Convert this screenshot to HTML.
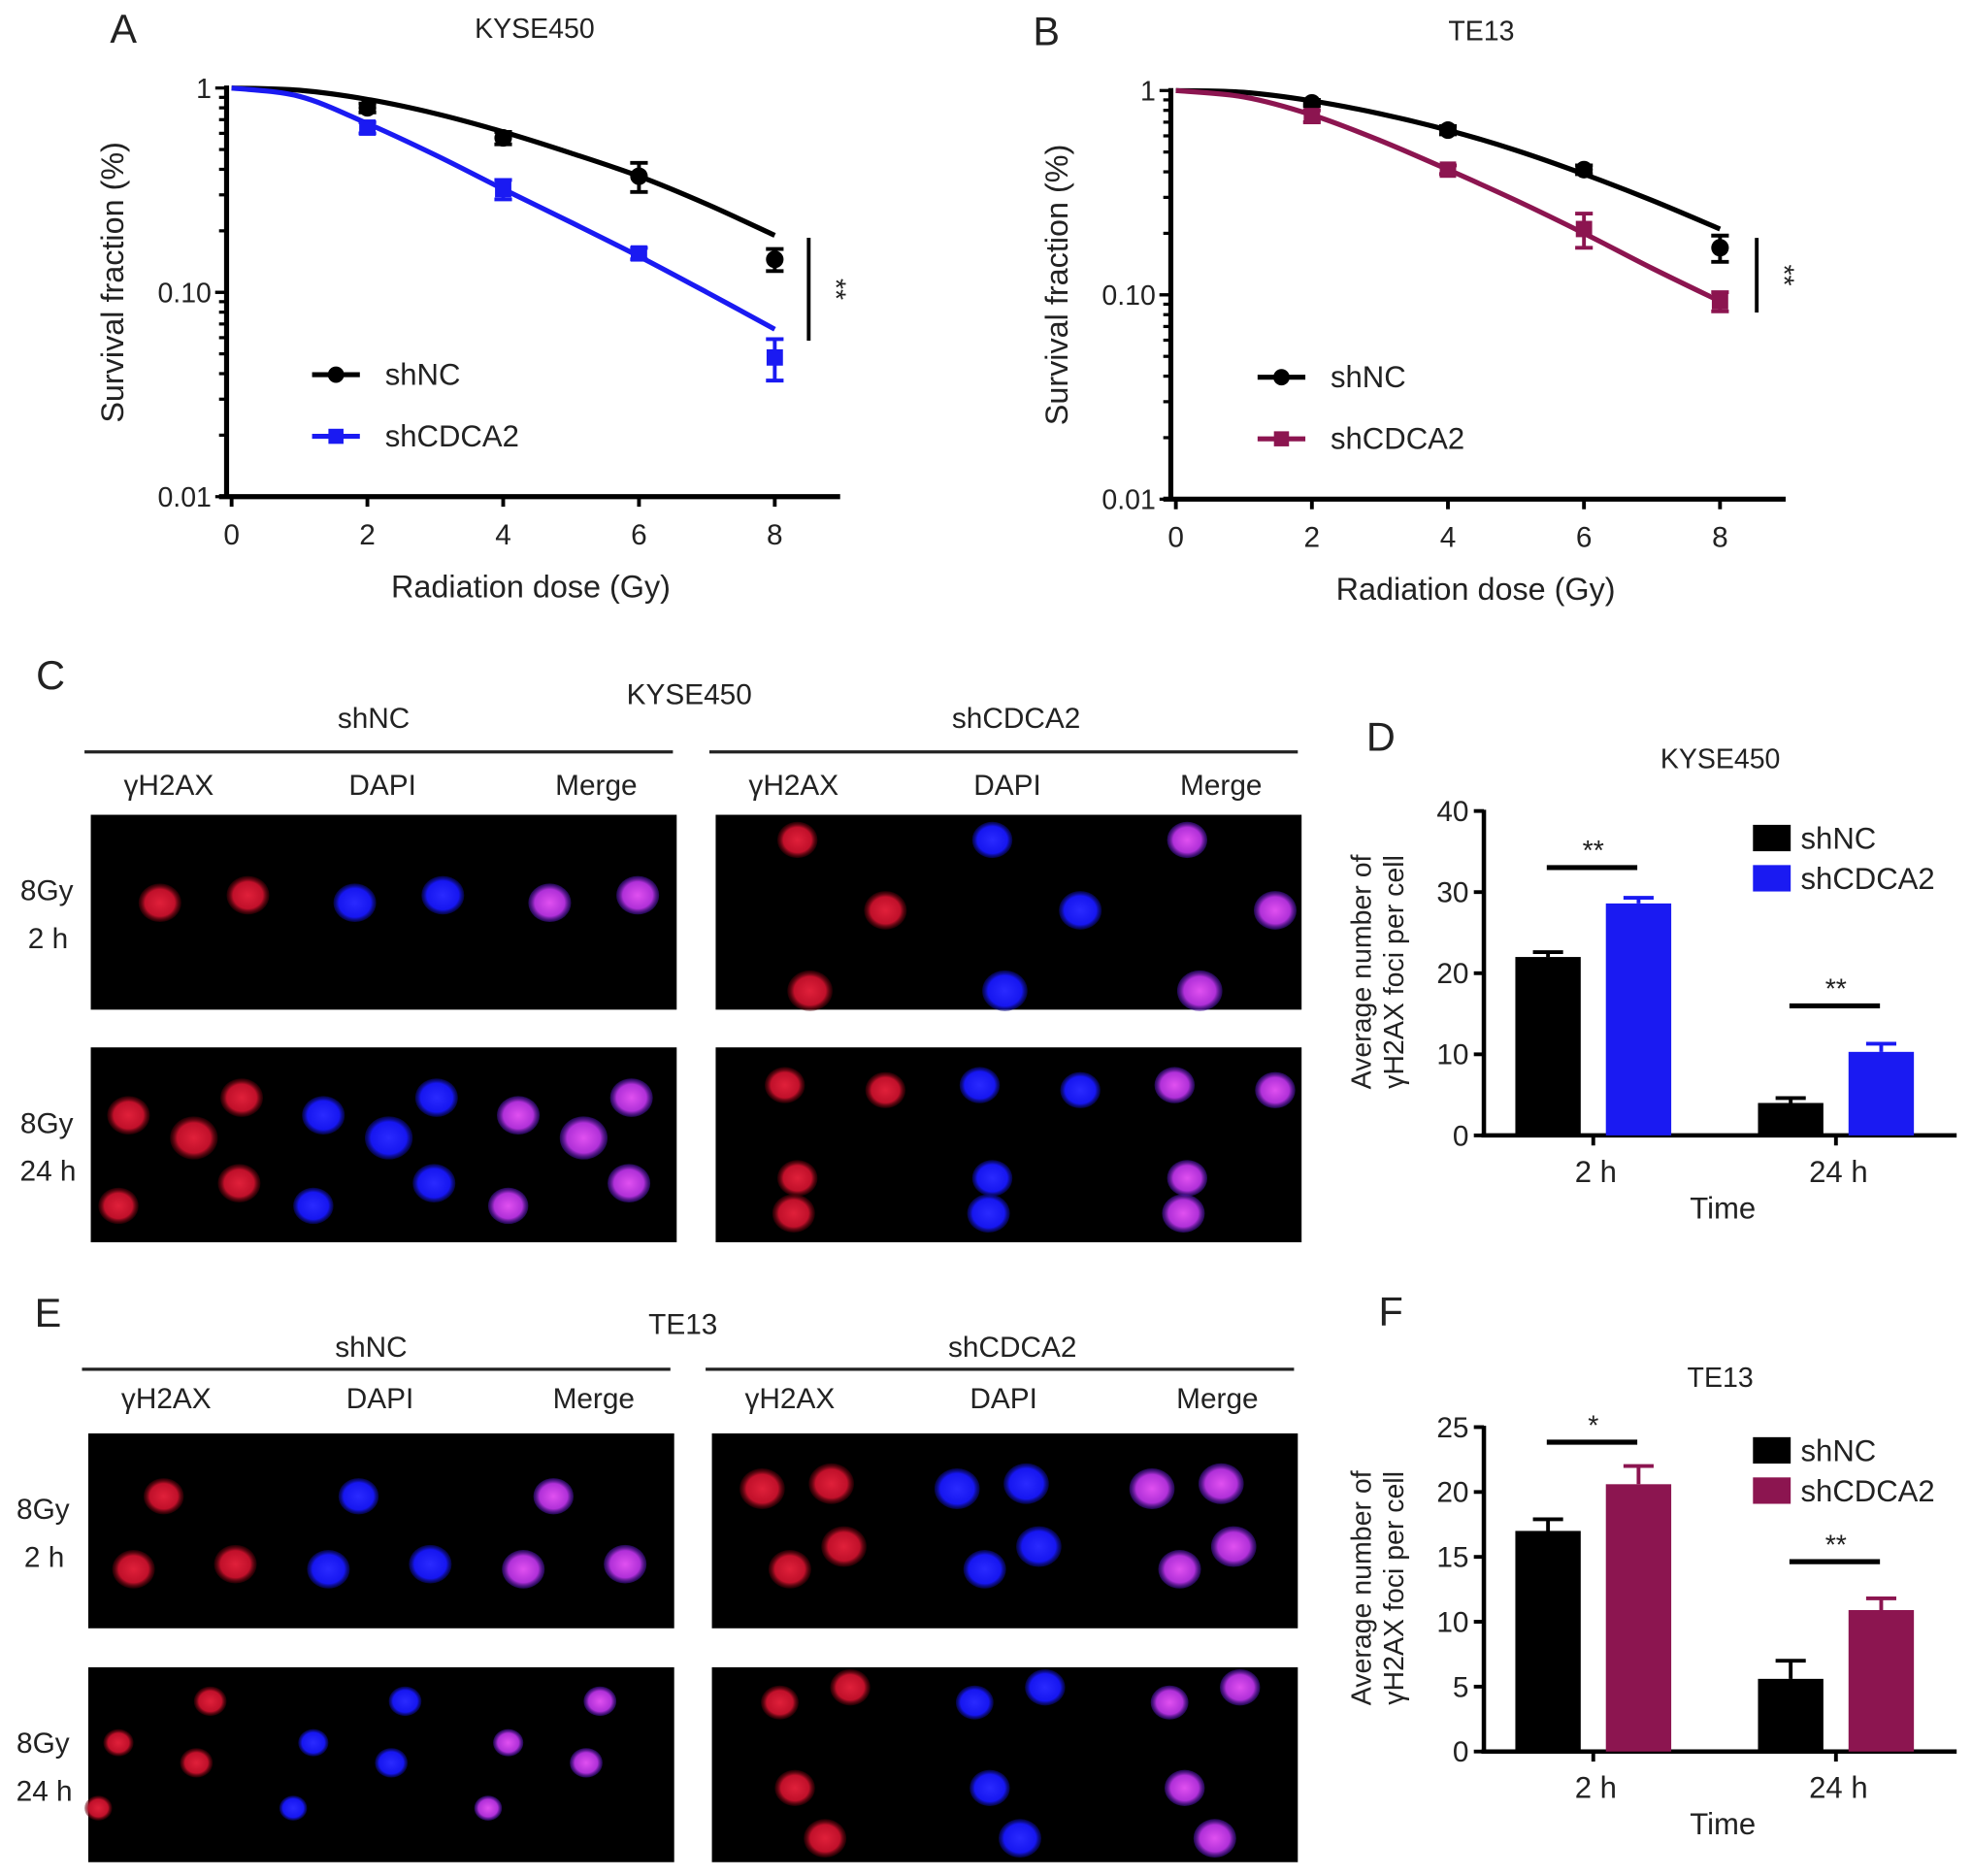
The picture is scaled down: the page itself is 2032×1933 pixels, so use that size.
<!DOCTYPE html>
<html><head><meta charset="utf-8"><style>
html,body{margin:0;padding:0;background:#fff}
svg{display:block}
text{font-family:"Liberation Sans",Arial,sans-serif;fill:#222}
</style></head><body>
<svg id="fig" width="2032" height="1933" viewBox="0 0 1568 1492" xmlns="http://www.w3.org/2000/svg">
<defs>
<radialGradient id="gR"><stop offset="0" stop-color="#e0203a"/><stop offset="0.7" stop-color="#c0102a"/><stop offset="1" stop-color="#500008" stop-opacity="0.4"/></radialGradient>
<radialGradient id="gB"><stop offset="0" stop-color="#2a2aff"/><stop offset="0.75" stop-color="#1616f0"/><stop offset="1" stop-color="#0a0a80" stop-opacity="0.5"/></radialGradient>
<radialGradient id="gM"><stop offset="0" stop-color="#e050f0"/><stop offset="0.7" stop-color="#b030d8"/><stop offset="1" stop-color="#4010a0" stop-opacity="0.5"/></radialGradient>
</defs>
<g id="root"></g>
</svg>
<script>
// ---- Data arrays ----
var doses = [0, 2, 4, 6, 8];
var fitDoses = [0, 1, 2, 3, 4, 5, 6, 7, 8];
var aNC = [1, 0.8, 0.57, 0.37, 0.145];
var aNCerr = [0, 0.04, 0.04, 0.06, 0.018];
var aKD = [1, 0.64, 0.32, 0.155, 0.048];
var aKDerr = [0, 0.04, 0.035, 0.01, 0.011];
var aNCfit = [1, 0.975, 0.88, 0.75, 0.61, 0.48, 0.37, 0.27, 0.19];
var aKDfit = [1, 0.91, 0.67, 0.47, 0.32, 0.22, 0.15, 0.1, 0.066];
var bNC = [1, 0.87, 0.64, 0.41, 0.17];
var bNCerr = [0, 0.03, 0.03, 0.02, 0.025];
var bKD = [1, 0.75, 0.41, 0.21, 0.093];
var bKDerr = [0, 0.05, 0.02, 0.04, 0.01];
var bNCfit = [1, 0.98, 0.89, 0.77, 0.64, 0.51, 0.39, 0.29, 0.21];
var bKDfit = [1, 0.93, 0.76, 0.57, 0.41, 0.29, 0.2, 0.135, 0.093];
var timeCats = ["2 h", "24 h"];
var dNC = [22, 4];
var dNCerr = [0.6, 0.6];
var dKD = [28.6, 10.3];
var dKDerr = [0.7, 1.0];
var dTicks = [0, 10, 20, 30, 40];
var fNC = [17, 5.6];
var fNCerr = [0.9, 1.4];
var fKD = [20.6, 10.9];
var fKDerr = [1.4, 0.9];
var fTicks = [0, 5, 10, 15, 20, 25];
var logTicks = ["1", "0.10", "0.01"];
var doseTicks = [0, 2, 4, 6, 8];

var NS = "http://www.w3.org/2000/svg";
var root = document.getElementById("root");
function mk(tag, attrs, parent, txt) {
  var e = document.createElementNS(NS, tag);
  for (var k in attrs) e.setAttribute(k, attrs[k]);
  if (txt !== undefined) e.textContent = txt;
  (parent || root).appendChild(e);
  return e;
}
function grp(name, parent) {
  var g = mk("g", {}, parent);
  
  
  return g;
}
function label(parent, name, x, y, s, size, anchor, extra) {
  var t = mk("text", {x: x, y: y, "font-size": size, "text-anchor": anchor || "middle"}, parent, s);
  if (extra) for (var k in extra) t.setAttribute(k, extra[k]);
  
  
  return t;
}
function smooth(pts) {
  var d = "M" + pts[0][0] + "," + pts[0][1];
  for (var i = 0; i < pts.length - 1; i++) {
    var p0 = pts[i - 1] || pts[i], p1 = pts[i], p2 = pts[i + 1], p3 = pts[i + 2] || p2;
    d += " C" + (p1[0] + (p2[0] - p0[0]) / 6) + "," + (p1[1] + (p2[1] - p0[1]) / 6) + " " +
      (p2[0] - (p3[0] - p1[0]) / 6) + "," + (p2[1] - (p3[1] - p1[1]) / 6) + " " + p2[0] + "," + p2[1];
  }
  return d;
}

// ---- Survival panel ----
function survival(cfg) {
  var g = grp(cfg.name);
  var X = function (v) { return cfg.x0 + v * cfg.px; };
  var Y = function (v) { return cfg.y1 - Math.log10(v) * cfg.dec; };
  var yBottom = cfg.y1 + 2 * cfg.dec;
  label(g, "panel-letter", cfg.lx, cfg.ly, cfg.letter, 32, "middle");
  label(g, "chart-title", cfg.tx, cfg.ly - 4, cfg.title, 22);
  mk("line", {x1: cfg.ax, y1: cfg.y1 - 2, x2: cfg.ax, y2: yBottom, stroke: "#000", "stroke-width": 4}, g);
  mk("line", {x1: cfg.ax - 6, y1: yBottom, x2: cfg.xend, y2: yBottom, stroke: "#000", "stroke-width": 4}, g);
  for (var dd = 0; dd < 2; dd++) for (var m = 1; m <= 10; m++) {
    var v = Math.pow(10, -2 + dd) * m;
    var yy = Y(v); var major = (m === 1 || m === 10);
    mk("line", {x1: cfg.ax - (major ? 9 : 6), y1: yy, x2: cfg.ax, y2: yy, stroke: "#000", "stroke-width": 2.5}, g);
  }
  logTicks.forEach(function (t, i) {
    label(g, "y-tick-label", cfg.ax - 12, cfg.y1 + i * cfg.dec + 8, t, 22, "end");
  });
  doseTicks.forEach(function (t) {
    mk("line", {x1: X(t), y1: yBottom, x2: X(t), y2: yBottom + 8, stroke: "#000", "stroke-width": 3}, g);
    label(g, "x-tick-label", X(t), yBottom + 38, String(t), 23);
  });
  label(g, "x-axis-title", (cfg.ax + cfg.xend) / 2 - 2, yBottom + 80, "Radiation dose (Gy)", 25);
  label(g, "y-axis-title", 0, 0, "Survival fraction (%)", 25, "middle",
    {transform: "translate(" + (cfg.ax - 82) + "," + ((cfg.y1 + yBottom) / 2 - 8) + ") rotate(-90)"});
  function series(fit, vals, errs, color, shape, nm) {
    var sg = grp(nm, g);
    var p = mk("path", {d: smooth(fitDoses.map(function (d, i) { return [X(d), Y(fit[i])]; })), fill: "none", stroke: color, "stroke-width": 4}, sg);
     
    for (var i = 1; i < doses.length; i++) {
      var cx = X(doses[i]), cy = Y(vals[i]), hi = Y(vals[i] + errs[i]), lo = Y(Math.max(vals[i] - errs[i], 0.001));
      mk("path", {d: "M" + cx + "," + hi + "V" + lo + "M" + (cx - 7) + "," + hi + "h14M" + (cx - 7) + "," + lo + "h14", stroke: color, "stroke-width": 3, fill: "none"}, sg);
      var mark = shape === "c" ? mk("circle", {cx: cx, cy: cy, r: 7, fill: color}, sg)
        : mk("rect", {x: cx - 6.5, y: cy - 6.5, width: 13, height: 13, fill: color}, sg);
      
      
    }
  }
  series(cfg.ncFit, cfg.nc, cfg.ncErr, "#000", "c", "shNC-series");
  series(cfg.kdFit, cfg.kd, cfg.kdErr, cfg.kdColor, "s", "shCDCA2-series");
  var sx = cfg.sigX;
  mk("line", {x1: sx, y1: Y(cfg.sigTop), x2: sx, y2: Y(cfg.sigBot), stroke: "#000", "stroke-width": 3}, g);
  label(g, "significance-stars", 0, 0, "**", 22, "middle", {transform: "translate(" + (sx + 14) + "," + (Y(Math.sqrt(cfg.sigTop * cfg.sigBot))) + ") rotate(90)"});
  var lg = grp("legend", g);
  mk("line", {x1: cfg.legX, y1: cfg.legY, x2: cfg.legX + 38, y2: cfg.legY, stroke: "#000", "stroke-width": 4}, lg);
  mk("circle", {cx: cfg.legX + 19, cy: cfg.legY, r: 6.5, fill: "#000"}, lg);
  label(lg, "legend-shNC", cfg.legX + 58, cfg.legY + 8, "shNC", 24, "start");
  mk("line", {x1: cfg.legX, y1: cfg.legY + 49, x2: cfg.legX + 38, y2: cfg.legY + 49, stroke: cfg.kdColor, "stroke-width": 4}, lg);
  mk("rect", {x: cfg.legX + 13, y: cfg.legY + 43, width: 12, height: 12, fill: cfg.kdColor}, lg);
  label(lg, "legend-shCDCA2", cfg.legX + 58, cfg.legY + 57, "shCDCA2", 24, "start");
}
survival({name: "panel-a-survival", letter: "A", lx: 98, ly: 34, tx: 425, title: "KYSE450",
  ax: 180, x0: 184, px: 54, y1: 70, dec: 162.5, xend: 668,
  nc: aNC, ncErr: aNCerr, kd: aKD, kdErr: aKDerr, ncFit: aNCfit, kdFit: aKDfit, kdColor: "#1a1af2",
  sigX: 643, sigTop: 0.185, sigBot: 0.058, legX: 248, legY: 298});
survival({name: "panel-b-survival", letter: "B", lx: 832, ly: 36, tx: 1178, title: "TE13",
  ax: 931, x0: 935, px: 54.1, y1: 72, dec: 162.5, xend: 1420,
  nc: bNC, ncErr: bNCerr, kd: bKD, kdErr: bKDerr, ncFit: bNCfit, kdFit: bKDfit, kdColor: "#8c1550",
  sigX: 1397, sigTop: 0.19, sigBot: 0.082, legX: 1000, legY: 300});

// ---- Bar panels ----
function bars(cfg) {
  var g = grp(cfg.name);
  var Y = function (v) { return cfg.y0 - v / cfg.max * (cfg.y0 - cfg.yTop); };
  label(g, "panel-letter", cfg.lx, cfg.ly, cfg.letter, 32);
  label(g, "chart-title", 1368, cfg.ty, cfg.title, 22);
  mk("line", {x1: 1180, y1: cfg.yTop - 1, x2: 1180, y2: cfg.y0, stroke: "#000", "stroke-width": 3.5}, g);
  mk("line", {x1: 1178, y1: cfg.y0, x2: 1556, y2: cfg.y0, stroke: "#000", "stroke-width": 3.5}, g);
  cfg.ticks.forEach(function (t) {
    mk("line", {x1: 1172, y1: Y(t), x2: 1180, y2: Y(t), stroke: "#000", "stroke-width": 3}, g);
    label(g, "y-tick-label", 1168, Y(t) + 8, String(t), 23, "end");
  });
  var centers = [1267, 1460];
  timeCats.forEach(function (c, i) {
    mk("line", {x1: centers[i], y1: cfg.y0, x2: centers[i], y2: cfg.y0 + 8, stroke: "#000", "stroke-width": 3}, g);
    label(g, "x-tick-label", centers[i] + 2, cfg.y0 + 37, c, 24);
    [[cfg.nc, cfg.ncErr, "#000", -62, "shNC"], [cfg.kd, cfg.kdErr, cfg.kdColor, 10, "shCDCA2"]].forEach(function (s) {
      var v = s[0][i], e = s[1][i], bx = centers[i] + s[3];
      mk("path", {d: "M" + (bx + 26) + "," + Y(v) + "V" + Y(v + e) + "M" + (bx + 14) + "," + Y(v + e) + "h24", stroke: s[2], "stroke-width": 3, fill: "none"}, g);
      var r = mk("rect", {x: bx, y: Y(v), width: 52, height: cfg.y0 - Y(v), fill: s[2]}, g);
      
      
    });
  });
  label(g, "x-axis-title", 1370, cfg.y0 + 66, "Time", 24);
  label(g, "y-axis-title", 0, 0, "Average number of", 22, "middle", {transform: "translate(1090," + (cfg.y0 - 130) + ") rotate(-90)"});
  label(g, "y-axis-title-line2", 0, 0, "\u03b3H2AX foci per cell", 22, "middle", {transform: "translate(1116," + (cfg.y0 - 130) + ") rotate(-90)"});
  cfg.sig.forEach(function (s, i) {
    mk("line", {x1: centers[i] - 37, y1: s[1], x2: centers[i] + 35, y2: s[1], stroke: "#000", "stroke-width": 4}, g);
    label(g, "significance-stars", centers[i], s[1] - 6, s[0], 22);
  });
  var lg = grp("legend", g);
  mk("rect", {x: 1394, y: cfg.legY, width: 30, height: 21, fill: "#000"}, lg);
  label(lg, "legend-shNC", 1432, cfg.legY + 19, "shNC", 24, "start");
  mk("rect", {x: 1394, y: cfg.legY + 32, width: 30, height: 21, fill: cfg.kdColor}, lg);
  label(lg, "legend-shCDCA2", 1432, cfg.legY + 51, "shCDCA2", 24, "start");
}
bars({name: "panel-d-bars", letter: "D", lx: 1098, ly: 597, ty: 611, title: "KYSE450", y0: 903, yTop: 645, max: 40, ticks: dTicks,
  nc: dNC, ncErr: dNCerr, kd: dKD, kdErr: dKDerr, kdColor: "#1a1af2", sig: [["**", 690], ["**", 800]], legY: 656});
bars({name: "panel-f-bars", letter: "F", lx: 1106, ly: 1054, ty: 1103, title: "TE13", y0: 1393, yTop: 1135, max: 25, ticks: fTicks,
  nc: fNC, ncErr: fNCerr, kd: fKD, kdErr: fKDerr, kdColor: "#8c1550", sig: [["*", 1147], ["**", 1242]], legY: 1143});

// ---- Microscopy panels ----
function micro(cfg) {
  var g = grp(cfg.name);
  label(g, "panel-letter", cfg.lx, cfg.ly, cfg.letter, 32);
  label(g, "cell-line-title", cfg.tx, cfg.ty, cfg.title, 23);
  [["shNC", cfg.b1, 225], ["shCDCA2", cfg.b2, 239]].forEach(function (b) {
    var bx = b[1];
    label(g, "group-label-" + b[0], bx + b[2], cfg.gy, b[0], 23);
    mk("line", {x1: bx - 5, y1: cfg.lineY, x2: bx + 463, y2: cfg.lineY, stroke: "#222", "stroke-width": 2.5}, g);
    ["\u03b3H2AX", "DAPI", "Merge"].forEach(function (c, j) {
      label(g, "channel-label", bx + 62 + j * 170, cfg.chY, c, 23);
    });
  });
  cfg.rows.forEach(function (r, ri) {
    label(g, "row-label-dose", cfg.rlx, r.y + 68, "8Gy", 23);
    label(g, "row-label-time", cfg.rlx + 1, r.y + 106, r.t, 23);
    [cfg.b1, cfg.b2].forEach(function (bx, bi) {
      var img = mk("rect", {x: bx, y: r.y, width: 466, height: 155, fill: "#000"}, g);
      
      
      var cells = r.cells[bi];
      ["url(#gR)", "url(#gB)", "url(#gM)"].forEach(function (f, j) {
        cells.forEach(function (c) {
          mk("ellipse", {cx: bx + c[0] + j * 155, cy: r.y + c[1], rx: c[2], ry: c[2] * 0.9, fill: f}, g);
        });
      });
    });
  });
}
micro({name: "panel-c-micrographs", letter: "C", lx: 40, ly: 548, tx: 548, ty: 560, title: "KYSE450", gy: 579, lineY: 598, chY: 632, rlx: 37, b1: 72, b2: 569,
  rows: [{y: 648, t: "2 h", cells: [[[55, 70, 17], [125, 64, 17]], [[65, 20, 16], [135, 76, 17], [75, 140, 18]]]},
         {y: 833, t: "24 h", cells: [[[30, 54, 17], [82, 72, 19], [120, 40, 17], [118, 108, 17], [22, 126, 16]], [[55, 30, 16], [135, 34, 16], [65, 104, 16], [62, 132, 17]]]}]});
micro({name: "panel-e-micrographs", letter: "E", lx: 38, ly: 1055, tx: 543, ty: 1061, title: "TE13", gy: 1079, lineY: 1089, chY: 1120, rlx: 34, b1: 70, b2: 566,
  rows: [{y: 1140, t: "2 h", cells: [[[60, 50, 16], [36, 108, 17], [117, 104, 17]], [[40, 44, 18], [95, 40, 18], [62, 108, 17], [105, 90, 18]]]},
         {y: 1326, t: "24 h", cells: [[[97, 27, 13], [24, 60, 12], [86, 76, 13], [8, 112, 11]], [[54, 28, 15], [110, 16, 16], [66, 96, 16], [90, 136, 17]]]}]});
</script>
</body></html>
